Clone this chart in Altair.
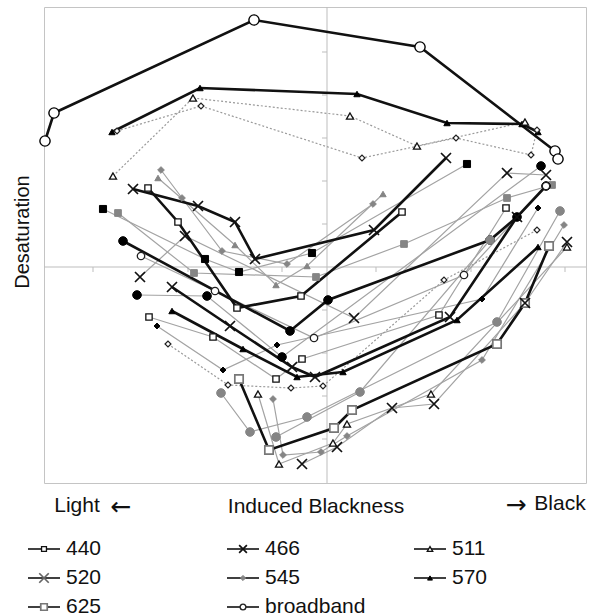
import altair as alt
import pandas as pd

# ---------------- data (x = induced blackness, y = desaturation; arbitrary units, 0 at axis crossing)
s01_x = [-28.2, -27.3, -7.3, 9.3, 22.8, 23.1]
s01_y = [12.6, 15.4, 24.7, 22.0, 11.6, 10.8]
s02_x = [-21.5, -12.7, 3.0, 12.0, 19.5, 21.1]
s02_y = [13.5, 17.9, 17.3, 14.4, 14.3, 13.5]
s03_x = [-21.4, -13.4, 2.3, 9.0, 19.8]
s03_y = [9.1, 16.9, 15.1, 12.1, 14.5]
s04_x = [-21.0, -12.6, 3.5, 12.9, 20.4, 21.0]
s04_y = [13.6, 16.1, 10.9, 12.9, 11.2, 13.7]
s05_x = [-19.4, -12.9, -9.2, -7.2, 4.7, 11.9]
s05_y = [7.8, 6.1, 4.5, 0.8, 3.7, 10.9]
s06_x = [-17.9, -14.9, -9.0, -2.6, 7.5]
s06_y = [7.9, 4.5, -4.1, -2.9, 5.5]
s07_x = [-16.9, -9.2, -5.1, -2.0, 5.6]
s07_y = [8.9, 2.2, -1.8, 0.1, 7.3]
s08_x = [-16.6, -14.5, -10.5, -4.0, 4.6]
s08_y = [9.7, 6.9, 1.6, 0.3, 6.3]
s09_x = [-22.4, -12.2, -8.8, -1.5, 14.0]
s09_y = [5.8, 0.8, -0.5, 1.4, 10.3]
s10_x = [-20.9, -13.3, -1.1, 7.7, 18.0, 22.5]
s10_y = [5.4, -0.6, -1.0, 2.3, 6.9, 8.2]
s11_x = [-20.4, -3.7, 0.1, 16.3, 19.0, 21.9]
s11_y = [2.6, -6.4, -3.3, 2.7, 5.0, 8.1]
s12_x = [-19.0, -12.0, -4.5, 21.4]
s12_y = [-2.8, -2.9, -9.0, 10.1]
s13_x = [-18.6, -11.2, -1.3, 13.7, 21.9]
s13_y = [1.1, -2.4, -7.1, -0.8, 8.1]
s14_x = [-18.7, -14.2, 2.7, 18.0, 21.9]
s14_y = [-1.0, 3.1, -5.1, 9.4, 9.2]
s15_x = [-15.5, -9.7, -3.5, -1.2, 12.3, 19.0]
s15_y = [-2.0, -5.9, -10.0, -11.0, -5.0, 5.0]
s16_x = [-15.5, -8.4, -3.0, 1.6, 13.0, 21.1]
s16_y = [-4.4, -8.2, -11.0, -10.5, -5.3, 2.0]
s17_x = [-17.8, -11.4, -5.1, -2.5, 11.2, 17.9]
s17_y = [-5.0, -7.0, -11.2, -9.2, -4.8, 5.9]
s18_x = [-17.0, -10.4, -5.0, 15.5, 21.1]
s18_y = [-5.9, -10.3, -7.8, -3.2, 5.9]
s19_x = [-15.9, -9.9, -3.6, -0.4, 11.7, 21.0]
s19_y = [-7.7, -11.8, -12.1, -11.9, -1.3, 3.7]
s20_x = [-10.6, -7.7, -2.0, 17.0, 23.3]
s20_y = [-12.6, -16.5, -15.0, -5.5, 5.6]
s21_x = [-8.8, -5.8, 0.7, 2.5, 17.0, 19.8, 22.2]
s21_y = [-11.2, -18.3, -16.1, -14.3, -7.7, -3.6, 2.1]
s22_x = [-2.5, 1.0, 6.5, 10.7, 19.8, 24.0]
s22_y = [-19.7, -18.0, -14.1, -13.7, -3.6, 2.5]
s23_x = [-6.9, -4.8, 0.6, 2.0, 10.4, 24.0]
s23_y = [-12.7, -19.7, -17.6, -15.7, -12.7, 2.0]
s24_x = [-5.4, -4.4, -0.6, 2.0, 15.5, 23.7]
s24_y = [-13.2, -18.8, -18.5, -16.9, -9.3, 4.2]
s25_x = [-5.1, 3.3, 16.3]
s25_y = [-17.0, -12.5, 2.7]

legend_labels = ["440", "466", "511", "520", "545", "570", "625", "broadband"]
x_tick_values = [-23.4, -13.9, -4.5, 4.9, 14.4, 23.8]
y_tick_values = [21.5, 17.2, 12.9, 8.6, 4.3, -4.3, -8.6, -12.9, -17.2]

# ---------------- styles
X_PATH = "M-1,-1L1,1M-1,1L1,-1"
MARKERS = {
    "ocirc_big": dict(shape="circle", fill="#ffffff", stroke="#000000", size=105, sw=1.4),
    "ocirc": dict(shape="circle", fill="#ffffff", stroke="#222222", size=55, sw=1.3),
    "ftri": dict(shape="triangle-up", fill="#000000", stroke="#000000", size=40, sw=1),
    "otri": dict(shape="triangle-up", fill="#ffffff", stroke="#111111", size=50, sw=1.3),
    "gtri": dict(shape="triangle-up", fill="#858585", stroke="#858585", size=40, sw=1),
    "odia": dict(shape="diamond", fill="#ffffff", stroke="#222222", size=35, sw=1.2),
    "gdia": dict(shape="diamond", fill="#858585", stroke="#858585", size=45, sw=1),
    "fdia": dict(shape="diamond", fill="#000000", stroke="#000000", size=35, sw=1),
    "x": dict(shape=X_PATH, fill="transparent", stroke="#111111", size=100, sw=1.7),
    "osq": dict(shape="square", fill="#ffffff", stroke="#111111", size=40, sw=1.3),
    "gosq": dict(shape="square", fill="#ffffff", stroke="#777777", size=70, sw=1.7),
    "gsq": dict(shape="square", fill="#858585", stroke="#858585", size=45, sw=1),
    "fsq": dict(shape="square", fill="#000000", stroke="#000000", size=50, sw=1),
    "fcirc": dict(shape="circle", fill="#000000", stroke="#000000", size=75, sw=1),
    "gcirc": dict(shape="circle", fill="#858585", stroke="#858585", size=75, sw=1),
}

SERIES = [
    ("s01", s01_x, s01_y, "thick", "ocirc_big"),
    ("s02", s02_x, s02_y, "thick", "ftri"),
    ("s03", s03_x, s03_y, "dot", "otri"),
    ("s04", s04_x, s04_y, "dot", "odia"),
    ("s05", s05_x, s05_y, "thick", "x"),
    ("s06", s06_x, s06_y, "thick", "osq"),
    ("s07", s07_x, s07_y, "thin", "gtri"),
    ("s08", s08_x, s08_y, "thin", "gdia"),
    ("s09", s09_x, s09_y, "thin", "fsq"),
    ("s10", s10_x, s10_y, "thin", "gsq"),
    ("s11", s11_x, s11_y, "thick", "fcirc"),
    ("s12", s12_x, s12_y, "thin", "fcirc"),
    ("s13", s13_x, s13_y, "thin", "ocirc"),
    ("s14", s14_x, s14_y, "thin", "x"),
    ("s15", s15_x, s15_y, "thick", "x"),
    ("s16", s16_x, s16_y, "thick", "ftri"),
    ("s17", s17_x, s17_y, "thin", "osq"),
    ("s18", s18_x, s18_y, "thin", "fdia"),
    ("s19", s19_x, s19_y, "dot", "odia"),
    ("s20", s20_x, s20_y, "thin", "gcirc"),
    ("s21", s21_x, s21_y, "thick", "gosq"),
    ("s22", s22_x, s22_y, "thin", "x"),
    ("s23", s23_x, s23_y, "thin", "otri"),
    ("s24", s24_x, s24_y, "thin", "gdia"),
    ("s25", s25_x, s25_y, "thin", "gcirc"),
]

rows = []
for sid, xs, ys, ls, mk in SERIES:
    m = MARKERS[mk]
    for i, (xv, yv) in enumerate(zip(xs, ys)):
        rows.append(dict(series=sid, i=i, x=xv, y=yv, ls=ls, **m))
df = pd.DataFrame(rows)

FONT = "Liberation Sans"
FS = 21
XDOM = [-28.3, 25.9]
YDOM = [-21.6, 26.0]
xs_ = alt.Scale(domain=XDOM, nice=False, zero=False)
ys_ = alt.Scale(domain=YDOM, nice=False, zero=False)
X = lambda f="x": alt.X(f"{f}:Q", scale=xs_, axis=None)
Y = lambda f="y": alt.Y(f"{f}:Q", scale=ys_, axis=None)

base = alt.Chart(df)

# axes at zero + ticks
zero_df = pd.DataFrame({"x": [XDOM[0], 0.0], "x2": [XDOM[1], 0.0], "y": [0.0, YDOM[0]], "y2": [0.0, YDOM[1]]})
zero_lines = alt.Chart(zero_df).mark_rule(color="#bdbdbd", strokeWidth=1).encode(
    x=X(), x2="x2:Q", y=Y(), y2="y2:Q")
xt = pd.DataFrame({"x": x_tick_values, "y": [0.0] * len(x_tick_values), "y2": [-0.5] * len(x_tick_values)})
yt = pd.DataFrame({"y": y_tick_values, "x": [-0.5] * len(y_tick_values), "x2": [0.0] * len(y_tick_values)})
xticks = alt.Chart(xt).mark_rule(color="#bdbdbd").encode(x=X(), y=Y(), y2="y2:Q")
yticks = alt.Chart(yt).mark_rule(color="#bdbdbd").encode(x=X(), x2="x2:Q", y=Y())

def lines(style, **kw):
    return base.transform_filter(alt.datum.ls == style).mark_line(**kw).encode(
        x=X(), y=Y(), detail="series:N", order="i:Q")

thin_lines = lines("thin", color="#a3a3a3", strokeWidth=1.2)
dot_lines = lines("dot", color="#9a9a9a", strokeWidth=1.2, strokeDash=[2, 2])
thick_lines = lines("thick", color="#111111", strokeWidth=2.6)

points = base.mark_point(filled=True, opacity=1).encode(
    x=X(), y=Y(),
    shape=alt.Shape("shape:N", scale=None),
    fill=alt.Fill("fill:N", scale=None),
    stroke=alt.Stroke("stroke:N", scale=None),
    size=alt.Size("size:Q", scale=None),
    strokeWidth=alt.StrokeWidth("sw:Q", scale=None),
)

# axis texts
ann = pd.DataFrame({
    "x": [-25.0, -1.1, 23.3],
    "y": [-23.9, -24.0, -23.7],
    "t": ["Light", "Induced Blackness", "Black"],
})
ann_text = alt.Chart(ann).mark_text(font=FONT, fontSize=FS, color="#111111", baseline="middle", align="center").encode(
    x=X(), y=Y(), text="t:N")
arrows = pd.DataFrame({"x": [-20.6, 18.9], "y": [-24.0, -23.8], "t": ["\u2190", "\u2192"]})
arrow_text = alt.Chart(arrows).mark_text(font="DejaVu Sans", fontSize=25, color="#111111", baseline="middle", align="center").encode(
    x=X(), y=Y(), text="t:N")
ytitle = alt.Chart(pd.DataFrame({"x": [-30.4], "y": [3.5], "t": ["Desaturation"]})).mark_text(
    font=FONT, fontSize=20, color="#111111", angle=270, baseline="middle", align="center").encode(
    x=X(), y=Y(), text="t:N")

# legend built from legend_labels
LEG_MARK = {"440": "osq", "466": "x", "511": "otri", "520": "x", "545": "gdia",
            "570": "ftri", "625": "gosq", "broadband": "ocirc"}
col_x0 = [-29.9, -10.0, 8.7]
col_w = 3.2
row_y = [-28.2, -31.1, -34.0]
leg_rows = []
for k, lab in enumerate(legend_labels):
    c, r = k % 3, k // 3
    m = dict(MARKERS[LEG_MARK[lab]])
    m["size"] = m["size"] * 0.6
    if lab == "520":
        m["stroke"] = "#666666"
        m["size"] = 90
    leg_rows.append(dict(lab=lab, x=col_x0[c], x2=col_x0[c] + col_w, xm=col_x0[c] + col_w / 2,
                         xt=col_x0[c] + col_w + 0.6, y=row_y[r], **m))
ldf = pd.DataFrame(leg_rows)
lbase = alt.Chart(ldf)
leg_lines = lbase.mark_rule(color="#111111", strokeWidth=1.6).encode(x=X(), x2="x2:Q", y=Y())
leg_pts = lbase.mark_point(filled=True, opacity=1).encode(
    x=X("xm"), y=Y(),
    shape=alt.Shape("shape:N", scale=None),
    fill=alt.Fill("fill:N", scale=None),
    stroke=alt.Stroke("stroke:N", scale=None),
    size=alt.Size("size:Q", scale=None),
    strokeWidth=alt.StrokeWidth("sw:Q", scale=None),
)
leg_txt = lbase.mark_text(font=FONT, fontSize=FS, color="#111111", align="left", baseline="middle").encode(
    x=X("xt"), y=Y(), text="lab:N")

chart = alt.layer(
    zero_lines, xticks, yticks, thin_lines, dot_lines, thick_lines, points,
    ann_text, arrow_text, ytitle, leg_lines, leg_pts, leg_txt,
).properties(
    width=542, height=476,
    autosize=alt.AutoSizeParams(type="none"),
    padding={"left": 44, "top": 7, "right": 6, "bottom": 133},
    background="#ffffff",
).configure_view(stroke="#c4c4c4", strokeWidth=1)

chart.save("out.html", embed_options={"renderer": "svg", "actions": False})
